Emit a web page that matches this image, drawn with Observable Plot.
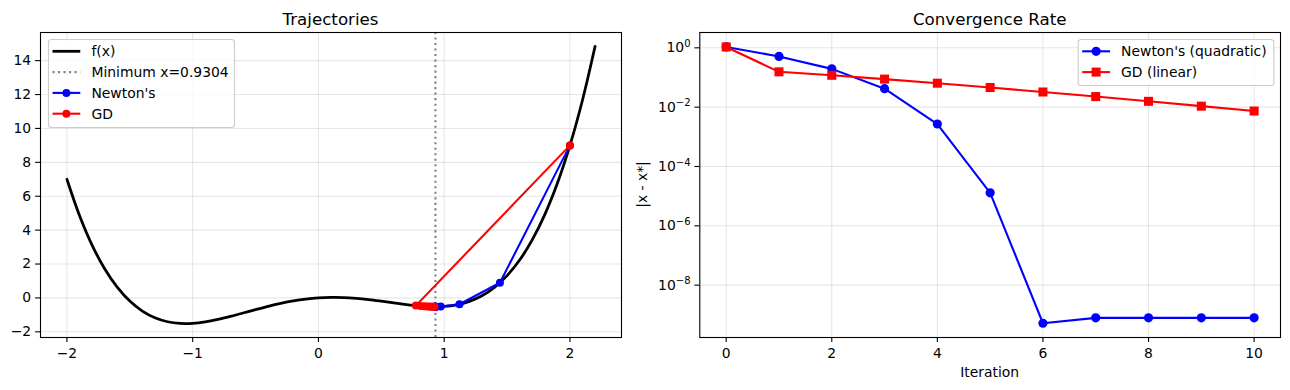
<!DOCTYPE html>
<html><head><meta charset="utf-8">
<script src="https://cdn.jsdelivr.net/npm/d3@7"></script>
<script src="https://cdn.jsdelivr.net/npm/@observablehq/plot@0.6"></script>
<style>
body{margin:0;background:#fff;}
#wrap{display:flex;width:1290px;height:390px;overflow:hidden;}
svg{font-family:"DejaVu Sans",sans-serif;display:block;}
</style></head><body><div id="wrap"></div>
<script>
// ---- Data ----
const curveX = [-2.0,-1.9,-1.8,-1.7,-1.6,-1.5,-1.4,-1.3,-1.2,-1.1,-1.0,-0.9,-0.8,-0.7,-0.6,-0.5,-0.4,-0.3,-0.2,-0.1,0.0,0.1,0.2,0.3,0.4,0.5,0.6,0.7,0.8,0.9,1.0,1.1,1.2,1.3,1.4,1.5,1.6,1.7,1.8,1.9,2.0,2.1,2.2];
const curveY = [7.0,4.862,3.118,1.722,0.634,-0.188,-0.778,-1.174,-1.406,-1.506,-1.5,-1.414,-1.270,-1.090,-0.890,-0.688,-0.494,-0.322,-0.178,-0.070,0.0,0.030,0.022,-0.022,-0.094,-0.188,-0.290,-0.390,-0.470,-0.514,-0.5,-0.406,-0.206,0.126,0.622,1.313,2.234,3.422,4.918,6.762,9.0,11.678,14.846];
const xMinimum = 0.9304;
const newtonX = [2.0,1.4432,1.1216,0.9722,0.9331,0.9304,0.9304,0.9304,0.9304,0.9304,0.9304];
const newtonF = [9.0,0.894,-0.373,-0.511,-0.517,-0.517,-0.517,-0.517,-0.517,-0.517,-0.517];
const gdX = [2.0,0.775,0.812,0.842,0.866,0.885,0.898,0.908,0.915,0.920,0.923];
const gdF = [9.0,-0.453,-0.478,-0.494,-0.505,-0.510,-0.514,-0.515,-0.516,-0.516,-0.517];
const iterations = [0,1,2,3,4,5,6,7,8,9,10];
const newtonErr = [1.07,0.513,0.195,0.0418,0.0027,1.3e-5,5.2e-10,7.9e-10,7.9e-10,7.9e-10,7.9e-10];
const gdErr = [1.07,0.155,0.1185,0.0882,0.0642,0.0459,0.0324,0.0227,0.0157,0.0108,0.0074];
const leftXTicks = [-2,-1,0,1,2];
const leftYTicks = [-2,0,2,4,6,8,10,12,14];
const rightXTicks = [0,2,4,6,8,10];
const rightYTicks = [1,1e-2,1e-4,1e-6,1e-8];
const titles = ["Trajectories","Convergence Rate"];
const legendLeft = ["f(x)","Minimum x=0.9304","Newton's","GD"];
const legendRight = ["Newton's (quadratic)","GD (linear)"];

// ---- Tables ----
const curve = curveX.map((x,i)=>({x, y: curveY[i]}));
const newton = newtonX.map((x,i)=>({x, y: newtonF[i]}));
const gd = gdX.map((x,i)=>({x, y: gdF[i]}));
const newtonConv = iterations.map((k,i)=>({k, e: newtonErr[i]}));
const gdConv = iterations.map((k,i)=>({k, e: gdErr[i]}));

const FS = 13.9;
const fmt = d => d < 0 ? "\u2212" + (-d) : String(d);
const gridStyle = {stroke:"#b0b0b0", strokeOpacity:0.3, strokeWidth:1.1};
const style = {fontFamily:"DejaVu Sans", fontSize: FS+"px", color:"black", background:"white", overflow:"visible"};

const left = Plot.plot({
  width: 628, height: 390,
  marginLeft: 40, marginRight: 7, marginTop: 32, marginBottom: 53,
  style,
  x: {domain: [-2.21, 2.41]},
  y: {domain: [-2.335, 15.66]},
  marks: [
    Plot.gridX(leftXTicks, gridStyle),
    Plot.gridY(leftYTicks, gridStyle),
    Plot.line(curve, {x:"x", y:"y", stroke:"black", strokeWidth:2.78, curve:"catmull-rom"}),
    Plot.ruleX([xMinimum], {stroke:"gray", strokeWidth:2.08, strokeDasharray:"2.08,3.43"}),
    Plot.line(newton, {x:"x", y:"y", stroke:"#0000ff", strokeWidth:2.08}),
    Plot.dot(newton, {x:"x", y:"y", fill:"#0000ff", r:4}),
    Plot.line(gd, {x:"x", y:"y", stroke:"#ff0000", strokeWidth:2.08}),
    Plot.dot(gd, {x:"x", y:"y", fill:"#ff0000", r:4}),
    Plot.frame({stroke:"black", strokeWidth:1.1}),
    Plot.axisX(leftXTicks, {tickSize:4.9, tickPadding:5.5, tickFormat: fmt, label:null, strokeWidth:1.1}),
    Plot.axisY(leftYTicks, {tickSize:4.9, tickPadding:4.4, tickFormat: fmt, label:null, strokeWidth:1.1})
  ]
});

const right = Plot.plot({
  width: 662, height: 390,
  marginLeft: 71.3, marginRight: 10, marginTop: 32, marginBottom: 53,
  style,
  x: {domain: [-0.5, 10.5]},
  y: {type:"log", domain: [Math.pow(10,-9.764), Math.pow(10,0.516)]},
  marks: [
    Plot.gridX(rightXTicks, gridStyle),
    Plot.gridY(rightYTicks, gridStyle),
    Plot.line(newtonConv, {x:"k", y:"e", stroke:"#0000ff", strokeWidth:2.08}),
    Plot.dot(newtonConv, {x:"k", y:"e", fill:"#0000ff", r:4.6}),
    Plot.line(gdConv, {x:"k", y:"e", stroke:"#ff0000", strokeWidth:2.08}),
    Plot.dot(gdConv, {x:"k", y:"e", fill:"#ff0000", symbol:"square", r:5.1}),
    Plot.frame({stroke:"black", strokeWidth:1.1}),
    Plot.axisX(rightXTicks, {tickSize:4.9, tickPadding:5.5, tickFormat: fmt, label:null, strokeWidth:1.1}),
    Plot.axisY(rightYTicks, {tickSize:4.9, tickPadding:4.4, tickFormat: d => "10^" + Math.round(Math.log10(d)), label:null, strokeWidth:1.1})
  ]
});

const wrap = document.getElementById("wrap");
wrap.appendChild(left);
wrap.appendChild(right);

// superscript tick labels 10^n
d3.select(right).selectAll('[aria-label="y-axis tick label"] text').each(function(){
  const t = this.textContent;
  if (!t.startsWith("10^")) return;
  const n = +t.slice(3);
  const sel = d3.select(this);
  sel.text("10");
  sel.append("tspan").attr("dy","-0.52em").attr("font-size", (FS*0.72)+"px")
     .text(n < 0 ? "\u2212" + (-n) : String(n));
});

// titles and axis labels
function addText(svg, x, y, txt, size, opts={}) {
  const t = d3.select(svg).append("text").attr("x", x).attr("y", y)
    .attr("text-anchor", opts.anchor || "middle").attr("font-size", size+"px")
    .attr("fill","black").text(txt);
  if (opts.rotate) t.attr("transform", `rotate(${opts.rotate},${x},${y})`);
  return t;
}
addText(left, 330.5, 24.5, titles[0], 16.7);
addText(right, 989.7-628, 24.5, titles[1], 16.7);
addText(right, 989.7-628, 376.5, "Iteration", FS);
addText(right, 646.5-628, 184.5, "|x - x*|", FS, {rotate:-90});

// legends
function legend(svg, x, y, w, h, items) {
  const g = d3.select(svg).append("g");
  g.append("rect").attr("x", x+0.5).attr("y", y+0.5).attr("width", w).attr("height", h)
    .attr("rx", 3).attr("fill","white").attr("fill-opacity",0.8).attr("stroke","#cccccc").attr("stroke-width",1.1);
  items.forEach((it, i) => {
    const cy = y + 12.3 + i*20.8;
    const x0 = x + 4.5, x1 = x0 + 27.8;
    g.append("line").attr("x1",x0).attr("x2",x1).attr("y1",cy).attr("y2",cy)
      .attr("stroke", it.color).attr("stroke-width", it.width)
      .attr("stroke-dasharray", it.dash || null);
    const mx = (x0+x1)/2;
    if (it.marker === "circle") g.append("circle").attr("cx",mx).attr("cy",cy).attr("r",it.r).attr("fill",it.color);
    if (it.marker === "square") g.append("rect").attr("x",mx-it.r).attr("y",cy-it.r).attr("width",2*it.r).attr("height",2*it.r).attr("fill",it.color);
    g.append("text").attr("x", x1 + 11.1).attr("y", cy).attr("dy","0.36em")
      .attr("text-anchor","start")
      .attr("font-size", FS+"px").attr("fill","black").text(it.label);
  });
}
legend(left, 48, 39, 186, 88, [
  {label: legendLeft[0], color:"black", width:2.78},
  {label: legendLeft[1], color:"gray", width:2.08, dash:"2.08,3.43"},
  {label: legendLeft[2], color:"#0000ff", width:2.08, marker:"circle", r:4},
  {label: legendLeft[3], color:"#ff0000", width:2.08, marker:"circle", r:4}
]);
legend(right, 1077.7-628, 39, 195.6, 46, [
  {label: legendRight[0], color:"#0000ff", width:2.08, marker:"circle", r:4.6},
  {label: legendRight[1], color:"#ff0000", width:2.08, marker:"square", r:4.5}
]);
</script></body></html>
